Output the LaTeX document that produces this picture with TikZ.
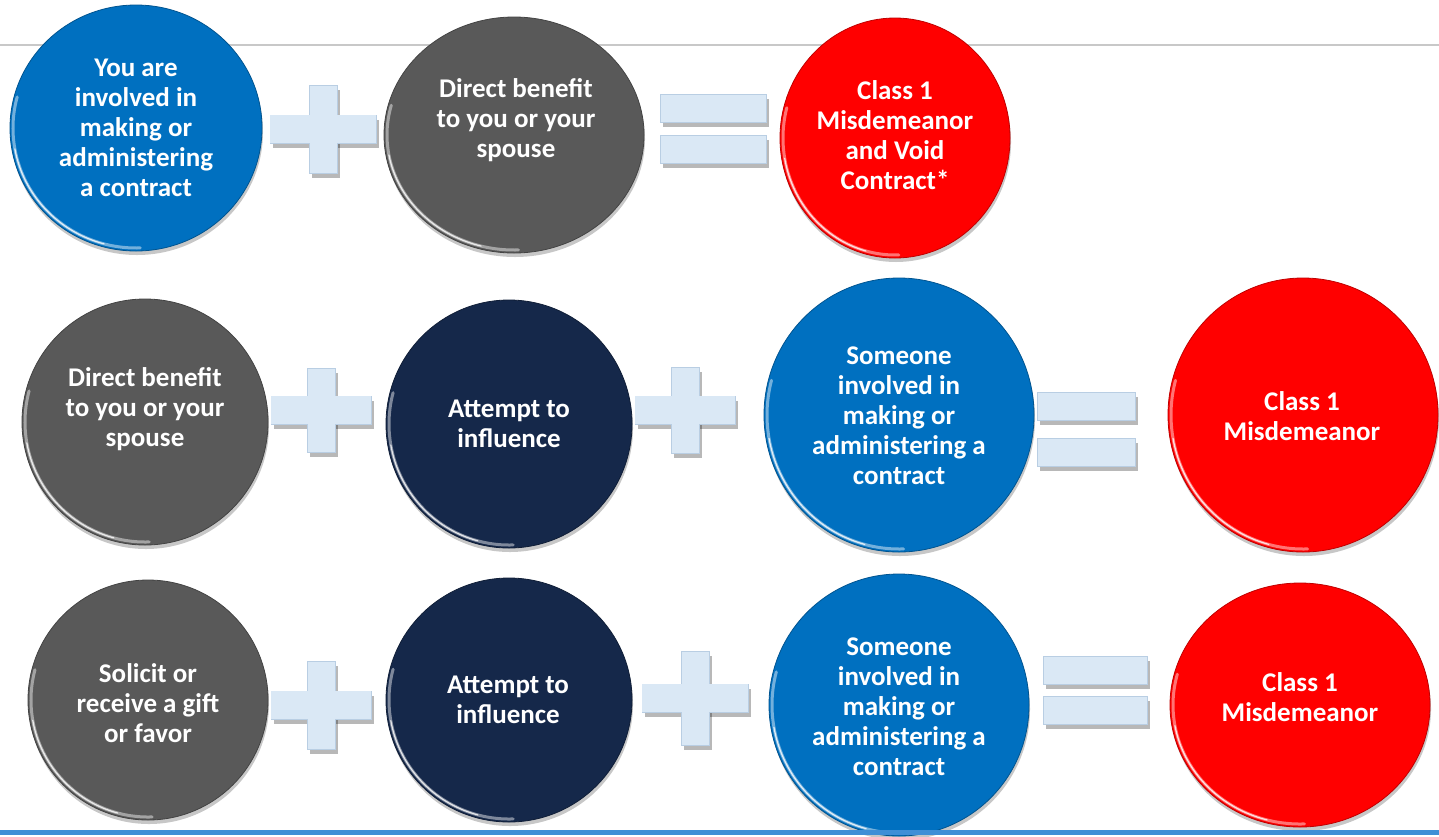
\documentclass[tikz,border=0pt]{standalone}
\usepackage{fontspec}
\setmainfont{Carlito}
\usetikzlibrary{shapes.geometric,calc,shadows}
\definecolor{cblue}{HTML}{0070C0}
\definecolor{cgray}{HTML}{595959}
\definecolor{cnavy}{HTML}{15284A}
\definecolor{cred}{HTML}{FF0000}
\definecolor{cplus}{HTML}{DAE8F5}
\definecolor{cplusedge}{HTML}{B9CEE3}
\definecolor{ctopline}{HTML}{C8C8C8}
\definecolor{cbotline}{HTML}{3F8FD6}
\tikzset{
  bub/.style={ellipse, line width=0.8pt, inner sep=0pt,
    drop shadow={shadow xshift=1pt, shadow yshift=-4pt, opacity=0.22, fill=black}},
  rim/.style={draw=white, line width=3pt, opacity=0.45, line cap=round},
  rimhi/.style={draw=white, line width=1.2pt, opacity=0.8, line cap=round},
  lbl/.style={text=white, font=\fontsize{27}{30}\selectfont\bfseries, align=center, inner sep=0pt},
  barshadow/.style={fill=black, opacity=0.28, draw=none, inner sep=0pt},
  bar/.style={fill=cplus, draw=cplusedge, line width=0.8pt, inner sep=0pt},
}
% \bubble{name}{x}{y}{rx}{ry}{colour}
\newcommand{\bubble}[6]{%
  \node[bub, fill=#6, draw=#6!75!black, minimum width=2*#4pt, minimum height=2*#5pt] (#1) at (#2,#3) {};
  \pgfmathsetlengthmacro\rxi{#4-3}%
  \pgfmathsetlengthmacro\ryi{#5-3}%
  \draw[rim] ($(#1.center)+(165:{\rxi} and {\ryi})$) arc[start angle=165, end angle=272, x radius={\rxi}, y radius={\ryi}];
  \draw[rimhi] ($(#1.center)+(190:{\rxi} and {\ryi})$) arc[start angle=190, end angle=255, x radius={\rxi}, y radius={\ryi}];
}
% \plussign{name}{x}{y}{w}{h}{t}
\newcommand{\plussign}[6]{%
  \node[barshadow, minimum width=#4pt, minimum height=#6pt] (#1hs) at ($(#2,#3)+(3,5)$) {};
  \node[barshadow, minimum width=#6pt, minimum height=#5pt] (#1vs) at ($(#2,#3)+(3,5)$) {};
  \node[bar, minimum width=#4pt, minimum height=#6pt] (#1h) at (#2,#3) {};
  \node[bar, minimum width=#6pt, minimum height=#5pt] (#1v) at (#2,#3) {};
  \fill[cplus] ($(#1h.north west)+(0.8pt,-0.8pt)$) rectangle ($(#1h.south east)+(-0.8pt,0.8pt)$);
}
% \equalsign{name}{x}{ytop}{ybot}{w}{t}
\newcommand{\equalsign}[6]{%
  \node[barshadow, minimum width=#5pt, minimum height=#6pt] (#1as) at ($(#2,#3)+(3,5)$) {};
  \node[barshadow, minimum width=#5pt, minimum height=#6pt] (#1bs) at ($(#2,#4)+(3,5)$) {};
  \node[bar, minimum width=#5pt, minimum height=#6pt] (#1a) at (#2,#3) {};
  \node[bar, minimum width=#5pt, minimum height=#6pt] (#1b) at (#2,#4) {};
}
\begin{document}
\begin{tikzpicture}[x=1pt, y=-1pt]
\useasboundingbox (0,0) rectangle (1439,836);
\fill[white] (0,0) rectangle (1439,836);
\coordinate (tl) at (0,45);
\coordinate (tr) at (1439,45);
\draw[ctopline, line width=2.2pt] (tl) -- (tr);

% Row 1
\bubble{a1}{136}{128}{126}{123}{cblue}
\plussign{p1}{323}{129}{106}{88}{28}
\bubble{a2}{514}{135}{130}{118}{cgray}
\equalsign{e1}{713}{108}{149}{106}{28}
\bubble{a3}{895}{138}{115}{120}{cred}
\node[lbl] (t1) at (136,128) {You are\\involved in\\making or\\administering\\a contract};
\node[lbl] (t2) at (516,120) {Direct benefit\\to you or your\\spouse};
\node[lbl] (t3) at (895,135) {Class 1\\Misdemeanor\\and Void\\Contract*};

% Row 2
\bubble{b1}{145}{422}{123}{123}{cgray}
\plussign{p2}{321}{410}{100}{84}{28}
\bubble{b2}{509}{424}{123}{124}{cnavy}
\plussign{p3}{685}{410}{100}{86}{28}
\bubble{b3}{899}{415}{135}{137}{cblue}
\equalsign{e2}{1086}{406}{452}{98}{28}
\bubble{b4}{1303}{415}{135}{137}{cred}
\node[lbl] (u1) at (145,409) {Direct benefit\\to you or your\\spouse};
\node[lbl] (u2) at (509,424) {Attempt to\\influence};
\node[lbl] (u3) at (899,416) {Someone\\involved in\\making or\\administering a\\contract};
\node[lbl] (u4) at (1302,416) {Class 1\\Misdemeanor};

% Row 3
\bubble{c1}{148}{700}{120}{120}{cgray}
\plussign{p4}{321}{705}{100}{88}{28}
\bubble{c2}{509}{700}{123}{122}{cnavy}
\plussign{p5}{695}{698}{106}{94}{28}
\bubble{c3}{899}{705}{130}{131}{cblue}
\equalsign{e3}{1095}{670}{710}{104}{28}
\bubble{c4}{1300}{705}{130}{122}{cred}
\node[lbl] (v1) at (148,703) {Solicit or\\receive a gift\\or favor};
\node[lbl] (v2) at (508,700) {Attempt to\\influence};
\node[lbl] (v3) at (899,707) {Someone\\involved in\\making or\\administering a\\contract};
\node[lbl] (v4) at (1300,697) {Class 1\\Misdemeanor};

\coordinate (bl) at (0,832.5);
\coordinate (br) at (1439,832.5);
\draw[cbotline, line width=5pt] (bl) -- (br);
\end{tikzpicture}
\end{document}
